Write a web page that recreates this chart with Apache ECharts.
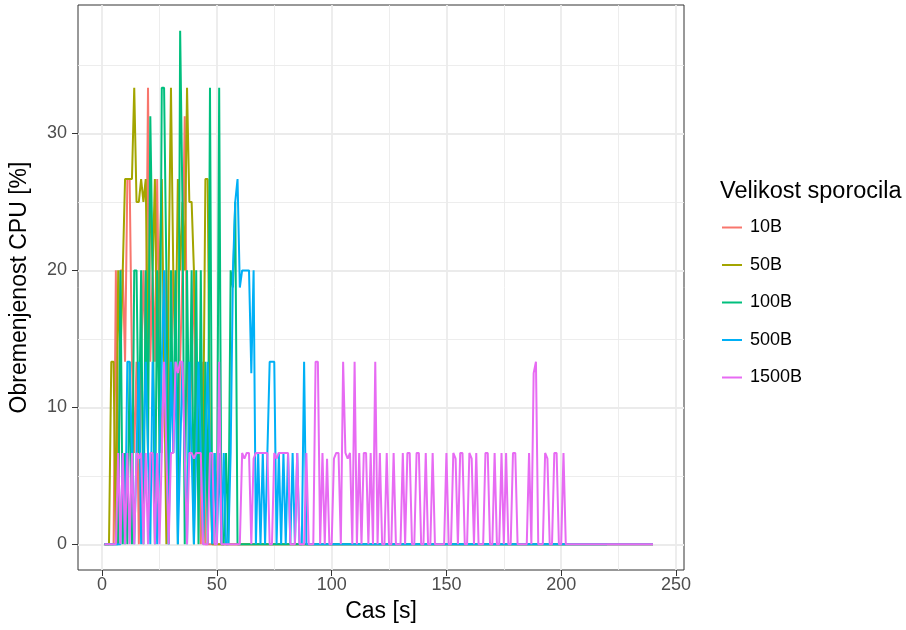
<!DOCTYPE html>
<html><head><meta charset="utf-8">
<script src="https://cdn.jsdelivr.net/npm/echarts@6/dist/echarts.min.js"></script>
<style>html,body{margin:0;padding:0;background:#fff}#c{width:906px;height:630px}</style>
</head><body><div id="c"></div>
<script>
const seriesNames = ['10B','50B','100B','500B','1500B'];
const seriesColors = ['#F8766D','#A3A500','#00BF7D','#00B0F6','#E76BF3'];
const xTicks = [0,50,100,150,200,250];
const xMinor = [25,75,125,175,225];
const yTicks = [0,10,20,30];
const yMinor = [5,15,25,35];

const cpu10B = [
0,0,0,0,0,20,0,20,20,13.33,
26.67,26.67,13.33,6.67,13.33,0,13.33,20,13.33,33.33,
13.33,20,13.33,26.67,13.33,6.67,13.33,20,6.67,13.33,
20,13.33,6.67,13.33,20,31.25,13.33,6.67,13.33,20,
6.67,13.33,0,13.33,0,0,0,0,0,0,
0,0,0,0,0,0,0,0,0,0, 0,0,0,0,0,0,0,0,0,0, 0,0,0,0,0,0,0,0,0,0,
0,0,0,0,0,0,0,0,0,0, 0,0,0,0,0,0,0,0,0,0, 0,0,0,0,0,0,0,0,0,0,
0,0,0,0,0,0,0,0,0,0, 0,0,0,0,0,0,0,0,0,0, 0,0,0,0,0,0,0,0,0,0,
0,0,0,0,0,0,0,0,0,0, 0,0,0,0,0,0,0,0,0,0, 0,0,0,0,0,0,0,0,0,0,
0,0,0,0,0,0,0,0,0,0, 0,0,0,0,0,0,0,0,0,0, 0,0,0,0,0,0,0,0,0,0,
0,0,0,0,0,0,0,0,0,0, 0,0,0,0,0,0,0,0,0,0, 0,0,0,0,0,0,0,0,0,0,
0,0,0,0,0,0,0,0,0,0
];
const cpu50B = [
0,0,0,13.33,13.33,0,20,13.33,20,26.67,
26.67,26.67,26.67,33.33,25,25,26.67,25,26.67,13.33,
26.67,20,26.67,13.33,20,26.67,13.33,0,20,33.33,
20,13.33,26.67,20,25,20,33.33,25,25,20,
13.33,6.67,13.33,6.67,26.67,26.67,6.67,0,0,0,
0,0,0,0,0,0,0,0,0,0, 0,0,0,0,0,0,0,0,0,0, 0,0,0,0,0,0,0,0,0,0,
0,0,0,0,0,0,0,0,0,0, 0,0,0,0,0,0,0,0,0,0, 0,0,0,0,0,0,0,0,0,0,
0,0,0,0,0,0,0,0,0,0, 0,0,0,0,0,0,0,0,0,0, 0,0,0,0,0,0,0,0,0,0,
0,0,0,0,0,0,0,0,0,0, 0,0,0,0,0,0,0,0,0,0, 0,0,0,0,0,0,0,0,0,0,
0,0,0,0,0,0,0,0,0,0, 0,0,0,0,0,0,0,0,0,0, 0,0,0,0,0,0,0,0,0,0,
0,0,0,0,0,0,0,0,0,0, 0,0,0,0,0,0,0,0,0,0, 0,0,0,0,0,0,0,0,0,0,
0,0,0,0,0,0,0,0,0,0
];
const cpu100B = [
0,0,0,0,0,0,0,20,0,6.67,
0,13.33,0,20,20,6.67,20,0,20,6.67,
31.25,20,0,20,6.67,33.33,33.33,20,0,20,
6.67,20,0,37.5,25,0,20,6.67,20,0,
20,0,20,0,13.33,0,33.33,0,6.67,0,
33.33,0,0,6.67,0,20,18.75,25,0,0,
0,0,0,0,0,0,0,0,0,0, 0,0,0,0,0,0,0,0,0,0,
0,0,0,0,0,0,0,0,0,0, 0,0,0,0,0,0,0,0,0,0, 0,0,0,0,0,0,0,0,0,0,
0,0,0,0,0,0,0,0,0,0, 0,0,0,0,0,0,0,0,0,0, 0,0,0,0,0,0,0,0,0,0,
0,0,0,0,0,0,0,0,0,0, 0,0,0,0,0,0,0,0,0,0, 0,0,0,0,0,0,0,0,0,0,
0,0,0,0,0,0,0,0,0,0, 0,0,0,0,0,0,0,0,0,0, 0,0,0,0,0,0,0,0,0,0,
0,0,0,0,0,0,0,0,0,0, 0,0,0,0,0,0,0,0,0,0
];
const cpu500B = [
0,0,0,0,0,0,0,0,6.67,0,
13.33,13.33,6.67,0,6.67,13.33,0,6.67,13.33,6.67,
0,13.33,6.67,0,6.67,13.33,20,6.67,0,13.33,
6.67,13.33,0,6.67,13.33,6.67,0,13.33,6.67,0,
6.67,13.33,6.67,0,6.67,13.33,6.67,0,6.67,0,
6.67,0,6.67,0,0,6.67,20,25,26.67,18.75,
20,20,20,20,12.5,20,0,6.67,0,6.67,
0,6.67,13.33,13.33,13.33,0,6.67,0,6.67,0,
6.67,0,6.67,0,6.67,0,0,13.33,0,0,
0,0,0,0,0,0,0,0,0,0, 0,0,0,0,0,0,0,0,0,0, 0,0,0,0,0,0,0,0,0,0,
0,0,0,0,0,0,0,0,0,0, 0,0,0,0,0,0,0,0,0,0, 0,0,0,0,0,0,0,0,0,0,
0,0,0,0,0,0,0,0,0,0, 0,0,0,0,0,0,0,0,0,0, 0,0,0,0,0,0,0,0,0,0,
0,0,0,0,0,0,0,0,0,0, 0,0,0,0,0,0,0,0,0,0, 0,0,0,0,0,0,0,0,0,0,
0,0,0,0,0,0,0,0,0,0, 0,0,0,0,0,0,0,0,0,0, 0,0,0,0,0,0,0,0,0,0
];
const cpu1500B = [
0,0,0,0,0,0,6.67,0,6.67,0,
6.67,0,6.67,0,6.67,6.25,6.67,0,6.67,0,
6.67,6.67,0,6.67,0,6.67,13.33,6.67,0,6.67,
6.67,13.33,12.5,13.33,13.33,6.67,0,6.67,6.67,6.25,
6.67,6.67,6.67,0,0,0,6.67,6.67,0,0,
13.33,0,0,0,0,0,0,0,0,0,
6.67,6.25,6.67,6.67,0,6.25,6.67,6.67,6.67,6.67,
6.67,6.67,0,0,6.67,6.25,6.67,6.67,6.67,6.67,
6.67,0,0,0,6.67,0,0,0,6.67,0,
0,0,13.33,13.33,0,6.67,0,6.25,0,0,
6.25,6.67,6.67,0,13.33,6.67,6.25,6.67,0,13.33,
0,6.67,0,6.67,6.67,0,6.67,0,13.33,0,
6.67,0,0,6.67,0,0,6.67,0,0,0,
6.67,0,6.67,6.67,0,0,6.67,6.67,0,0,
6.67,0,0,6.67,0,0,0,0,0,6.67,
0,0,6.67,6.25,0,6.67,6.67,0,0,6.67,
6.25,0,6.67,0,0,0,6.67,6.67,0,0,
6.67,0,0,6.67,0,6.67,0,0,6.67,6.67,
0,0,0,0,0,6.67,0,12.5,13.33,0,
0,0,6.67,6.25,0,0,6.67,6.67,0,0,
6.67,0,0,0,0,0,0,0,0,0,
0,0,0,0,0,0,0,0,0,0, 0,0,0,0,0,0,0,0,0,0, 0,0,0,0,0,0,0,0,0,0
];
const seriesValues = [cpu10B, cpu50B, cpu100B, cpu500B, cpu1500B];

const chart = echarts.init(document.getElementById('c'), null, {renderer:'canvas'});
const FONT = '"Liberation Sans", Arial, sans-serif';
const xMin = -10.5, xMax = 253.5, yMin = -1.875, yMax = 39.375;

chart.setOption({
  animation: false,
  backgroundColor: '#ffffff',
  textStyle: {fontFamily: FONT},
  grid: {left: 78, top: 5, width: 606, height: 565, show: true, borderColor: '#333333', borderWidth: 1, backgroundColor: 'transparent'},
  graphic: [{
    type: 'text', left: 720, top: 180,
    style: {text: 'Velikost sporocila', fontSize: 23.5, fill: '#000', fontFamily: FONT}
  }],
  legend: {
    orient: 'vertical', left: 717, top: 213,
    itemWidth: 20, itemHeight: 2, itemGap: 18.5,
    icon: 'rect',
    textStyle: {fontSize: 18, color: '#000', fontFamily: FONT, lineHeight: 19, padding: [0,0,0,3]},
    data: seriesNames
  },
  xAxis: [{
    type: 'value', min: xMin, max: xMax,
    axisLine: {show: false, onZero: false},
    axisTick: {show: true, length: 6, lineStyle: {color: '#333333', width: 1}, customValues: xTicks},
    axisLabel: {customValues: xTicks, color: '#4D4D4D', fontSize: 18, margin: 6, fontFamily: FONT},
    splitLine: {show: true, lineStyle: {color: '#EBEBEB', width: 1.8}},
    name: 'Cas [s]', nameLocation: 'middle', nameGap: 30,
    nameTextStyle: {fontSize: 23, color: '#000', fontFamily: FONT}
  }, {
    type: 'value', min: xMin, max: xMax, position: 'bottom',
    axisLine: {show: false, onZero: false},
    axisTick: {show: false, customValues: xMinor},
    axisLabel: {show: false},
    splitLine: {show: true, lineStyle: {color: '#EBEBEB', width: 0.9}}
  }],
  yAxis: [{
    type: 'value', min: yMin, max: yMax,
    axisLine: {show: false, onZero: false},
    axisTick: {show: true, length: 6, lineStyle: {color: '#333333', width: 1}, customValues: yTicks},
    axisLabel: {customValues: yTicks, color: '#4D4D4D', fontSize: 18, margin: 11, fontFamily: FONT},
    splitLine: {show: true, lineStyle: {color: '#EBEBEB', width: 1.8}},
    name: 'Obremenjenost CPU [%]', nameLocation: 'middle', nameGap: 47, nameRotate: 90,
    nameTextStyle: {fontSize: 23, color: '#000', fontFamily: FONT}
  }, {
    type: 'value', min: yMin, max: yMax, position: 'left',
    axisLine: {show: false, onZero: false},
    axisTick: {show: false, customValues: yMinor},
    axisLabel: {show: false},
    splitLine: {show: true, lineStyle: {color: '#EBEBEB', width: 0.9}}
  }],
  series: seriesNames.map((n, k) => ({
    name: n, type: 'line', xAxisIndex: 0, yAxisIndex: 0,
    showSymbol: false, symbol: 'none',
    color: seriesColors[k],
    lineStyle: {width: 2, color: seriesColors[k]},
    data: seriesValues[k].map((v, i) => [i + 1, v])
  }))
});
</script></body></html>
